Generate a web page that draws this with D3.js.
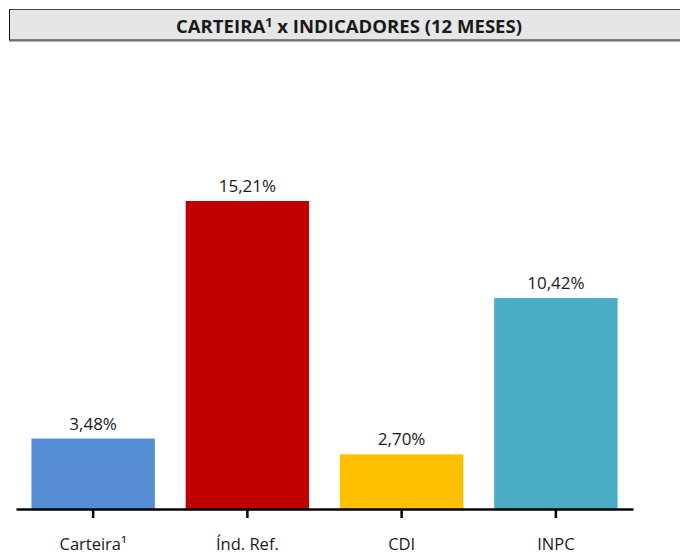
<!DOCTYPE html>
<html>
<head>
<meta charset="utf-8">
<script src="https://cdn.jsdelivr.net/npm/d3@7"></script>
<style>
  body { margin: 0; background: #fff; }
  text { font-family: "Open Sans", "Noto Sans", sans-serif; fill: #1a1a1a; }
</style>
</head>
<body>
<script>
var categories = ["Carteira\u00b9", "\u00cdnd. Ref.", "CDI", "INPC"],
    values = [3.48, 15.21, 2.70, 10.42],
    valueLabels = ["3,48%", "15,21%", "2,70%", "10,42%"],
    colors = ["#558ed5", "#c00000", "#ffc000", "#4bacc6"];

var width = 680, height = 555;

var svg = d3.select("body").append("svg")
    .attr("width", width)
    .attr("height", height);

// title box
var titleBox = svg.append("g");
titleBox.append("rect")
    .attr("x", 9.5).attr("y", 9.5)
    .attr("width", 680).attr("height", 30.5)
    .attr("fill", "#e6e6e6")
    .attr("stroke", "#444").attr("stroke-width", 1);
titleBox.append("line")
    .attr("x1", 9).attr("x2", 680)
    .attr("y1", 40.5).attr("y2", 40.5)
    .attr("stroke", "#6f6f6f").attr("stroke-width", 2);
titleBox.append("line")
    .attr("x1", 9.5).attr("x2", 9.5)
    .attr("y1", 9).attr("y2", 40)
    .attr("stroke", "#111").attr("stroke-width", 1);

var title = titleBox.append("text")
    .attr("x", 176).attr("y", 32.5)
    .attr("textLength", 346)
    .attr("lengthAdjust", "spacingAndGlyphs")
    .style("font-size", "17.5px")
    .style("font-weight", "bold");
title.append("tspan").text("CARTEIRA");
title.append("tspan").text("1").attr("dy", -6).style("font-size", "12px");
title.append("tspan").text(" x INDICADORES (12 MESES)").attr("dy", 6);

// scales
var x = d3.scaleBand()
    .domain(categories)
    .range([16, 633])
    .paddingInner(0.2)
    .paddingOuter(0.1);

var y = d3.scaleLinear()
    .domain([0, 18])
    .range([509, 509 - 18 * 20.25]);

// bars
svg.append("g").selectAll("rect")
    .data(values)
    .enter().append("rect")
      .attr("x", function(d, i) { return x(categories[i]); })
      .attr("y", function(d) { return y(d); })
      .attr("width", x.bandwidth())
      .attr("height", function(d) { return y(0) - y(d); })
      .attr("fill", function(d, i) { return colors[i]; });

// value labels
svg.append("g").selectAll("text")
    .data(values)
    .enter().append("text")
      .attr("x", function(d, i) { return x(categories[i]) + x.bandwidth() / 2; })
      .attr("y", function(d) { return y(d) - 9; })
      .attr("text-anchor", "middle")
      .style("font-size", "17px")
      .text(function(d, i) { return valueLabels[i]; });

// x axis
var axis = svg.append("g")
    .attr("transform", "translate(0," + y(0) + ")")
    .call(d3.axisBottom(x).tickSize(9).tickSizeOuter(0).tickPadding(20));
axis.select(".domain").attr("stroke", "#000").attr("stroke-width", 2.5);
axis.selectAll(".tick line").attr("stroke", "#000").attr("stroke-width", 2.5);
axis.selectAll(".tick text")
    .attr("fill", "#1a1a1a")
    .style("font-family", "'Open Sans', 'Noto Sans', sans-serif")
    .style("font-size", "16.5px");
</script>
</body>
</html>
